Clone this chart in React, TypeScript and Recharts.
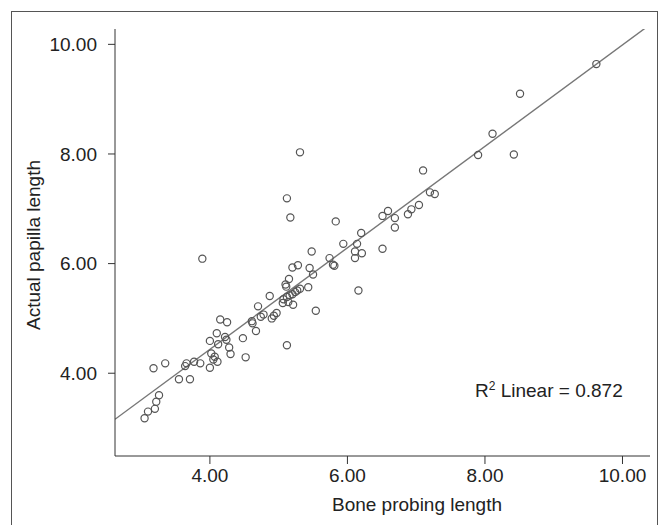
import { ScatterChart, Scatter, XAxis, YAxis, ReferenceLine } from 'recharts';

const bone = [
  3.05, 3.1, 3.2, 3.22, 3.26, 3.18, 3.35, 3.55, 3.71, 3.64, 3.66, 3.77, 3.86, 4.0, 4.02, 4.07,
  4.05, 4.11, 4.0, 4.1, 4.12, 4.15, 4.25, 4.22, 4.24, 4.28, 4.3, 4.48, 4.52, 4.61, 4.62, 4.67,
  4.7, 4.74, 4.78, 4.9, 4.93, 4.97, 4.87, 5.06, 5.07, 5.12, 5.16, 5.14, 5.2, 5.24, 5.21, 5.12,
  5.1, 5.11, 5.15, 5.27, 5.31, 5.43, 5.54, 5.2, 5.28, 5.45, 5.5, 3.89, 5.12, 5.17, 5.31, 5.48,
  5.74, 5.79, 5.81, 5.83, 5.94, 6.11, 6.11, 6.14, 6.21, 6.2, 6.16, 6.51, 6.51, 6.59, 6.69, 6.69,
  6.88, 6.93, 7.04, 7.1, 7.2, 7.27, 7.9, 8.11, 8.42, 8.51, 9.62,
];
const papilla = [
  3.18, 3.3, 3.35, 3.48, 3.6, 4.09, 4.18, 3.89, 3.89, 4.13, 4.18, 4.21, 4.18, 4.1, 4.36, 4.3,
  4.25, 4.21, 4.59, 4.73, 4.53, 4.98, 4.93, 4.66, 4.61, 4.47, 4.35, 4.64, 4.29, 4.95, 4.91, 4.77,
  5.22, 5.03, 5.07, 5.0, 5.05, 5.1, 5.41, 5.28, 5.35, 5.39, 5.42, 5.3, 5.44, 5.48, 5.25, 4.51,
  5.62, 5.58, 5.72, 5.51, 5.54, 5.57, 5.14, 5.93, 5.97, 5.92, 5.8, 6.09, 7.19, 6.84, 8.03, 6.22,
  6.1, 5.98, 5.96, 6.77, 6.36, 6.22, 6.1, 6.36, 6.19, 6.56, 5.51, 6.27, 6.87, 6.96, 6.83, 6.66,
  6.9, 6.99, 7.07, 7.7, 7.3, 7.27, 7.98, 8.37, 7.99, 9.1, 9.64,
];

const xTicks = [4, 6, 8, 10];
const yTicks = [4, 6, 8, 10];
const fitLine = [
  { x: 2.62, y: 3.16 },
  { x: 10.4, y: 10.36 },
];
const rSquared = 0.872;

const data = bone.map((x, i) => ({ x, y: papilla[i] }));

const font = '"Liberation Sans", Arial, sans-serif';
const fmt = (v: number) => v.toFixed(2);

const OpenCircle = (props: any) => (
  <circle cx={props.cx} cy={props.cy} r={3.6} fill="none" stroke="#555" strokeWidth={1.2} />
);

export default function App() {
  return (
    <div style={{ position: 'absolute', left: 0, top: 0, width: 661, height: 525, background: '#fff', overflow: 'hidden' }}>
      <ScatterChart width={661} height={525} margin={{ top: 29, right: 11, bottom: 0, left: 0 }}>
        <XAxis
          type="number"
          dataKey="x"
          domain={[2.62, 10.4]}
          allowDataOverflow
          ticks={xTicks}
          tickFormatter={fmt}
          height={69}
          tickSize={8}
          tickMargin={5}
          stroke="#333"
          tick={{ fill: '#222', fontSize: 19, fontFamily: font }}
        />
        <YAxis
          type="number"
          dataKey="y"
          domain={[2.49, 10.28]}
          allowDataOverflow
          ticks={yTicks}
          tickFormatter={fmt}
          width={115}
          tickSize={7}
          tickMargin={11}
          stroke="#333"
          tick={{ fill: '#222', fontSize: 19, fontFamily: font }}
        />
        <ReferenceLine segment={fitLine} stroke="#777" strokeWidth={1.4} ifOverflow="hidden" />
        <Scatter data={data} shape={OpenCircle} isAnimationActive={false} />
      </ScatterChart>
      <svg width={661} height={525} style={{ position: 'absolute', left: 0, top: 0, pointerEvents: 'none' }}>
        <rect x={11.5} y={11.5} width={646} height={540} fill="none" stroke="#555" strokeWidth={1} />
        <text
          x={33}
          y={245}
          transform="rotate(-90 33 245)"
          textAnchor="middle"
          dy="0.35em"
          fontSize={19}
          fontFamily={font}
          fill="#222"
        >
          Actual papilla length
        </text>
        <text x={417} y={511} textAnchor="middle" fontSize={19} fontFamily={font} fill="#222">
          Bone probing length
        </text>
        <text x={475} y={397} fontSize={19} fontFamily={font} fill="#222">
          R<tspan fontSize={12} dy={-7}>2</tspan>
          <tspan dy={7}> Linear = {rSquared.toFixed(3)}</tspan>
        </text>
      </svg>
    </div>
  );
}
